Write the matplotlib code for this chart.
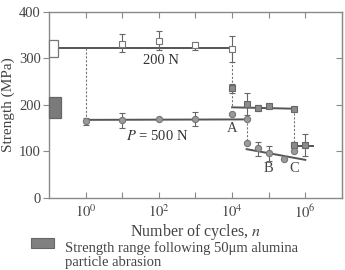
import numpy as np
import matplotlib
matplotlib.use('Agg')
import matplotlib.pyplot as plt
from matplotlib.patches import Rectangle

plt.rcParams['font.family'] = ['Liberation Serif', 'DejaVu Serif']
plt.rcParams['mathtext.fontset'] = 'stix'

# P = 200 N, open squares
n200 = [1e1, 1e2, 1e3, 1e4]
s200 = [331, 338, 328, 320]
e200_lo = [16, 20, 10, 28]
e200_hi = [21, 21, 7, 29]

# P = 500 N, circles
n500 = [1e0, 1e1, 1e2, 1e3, 2.5e4]
s500 = [166, 168, 170, 170, 169]
e500_lo = [9, 18, 0, 15, 0]
e500_hi = [7, 15, 0, 15, 0]

# after transition: 200 N, dark squares
n200b = [1e4, 2.5e4, 5e4, 1e5, 5e5]
s200b = [236, 202, 194, 198, 191]
e200b_lo = [10, 24, 6, 0, 0]
e200b_hi = [9, 24, 6, 0, 0]
n200c = [5e5, 1e6]
s200c = [115, 114]
e200c_lo = [0, 24]
e200c_hi = [0, 24]

# after transition: 500 N, circles
n500b = [1e4, 2.5e4, 5e4, 1e5, 2.6e5, 5e5]
s500b = [181, 119, 107, 96, 84, 100]
e500b_lo = [0, 0, 17, 16, 0, 0]
e500b_hi = [0, 0, 14, 16, 0, 0]

# fitted lines
line200_n, line200_s = [1e-1, 1e4], [323, 323]
line500_n, line500_s = [1e0, 2.5e4], [168, 169]
line200b_n, line200b_s = [1e4, 5e5], [195, 192]
lineB_n, lineB_s = [2.5e4, 1e6], [105, 82]
lineC_n, lineC_s = [5e5, 1.6e6], [112, 112]

# abrasion strength ranges (left boxes)
box_open = (304, 340)
box_fill = (171, 218)

dark = '#555555'
frame = '#8a8a8a'

fig = plt.figure(figsize=(3.45, 2.7), dpi=100)
ax = fig.add_axes([0.142, 0.2667, 0.849, 0.6889])
ax.set_xscale('log')
ax.set_xlim(1e-1, 1e7)
ax.set_ylim(0, 400)

# lines
for xs, ys in [(line200_n, line200_s), (line500_n, line500_s),
               (line200b_n, line200b_s), (lineB_n, lineB_s), (lineC_n, lineC_s)]:
    ax.plot(xs, ys, color=dark, lw=1.4, zorder=2)

# dashed connectors
dkw = dict(color='#777777', lw=0.8, ls=(0, (2, 1.5)), zorder=1)
ax.plot([n500[0], n500[0]], [line200_s[0], s500[0]], **dkw)
ax.plot([n200[-1], n200[-1]], [s200[-1], line200b_s[0]], **dkw)
ax.plot([n500[-1], n500[-1]], [s500[-1], s500b[1]], **dkw)
ax.plot([n200b[-1], n200b[-1]], [s200b[-1], s200c[0]], **dkw)

ekw = dict(ls='none', ecolor='#666666', elinewidth=0.8, capsize=2.5, capthick=0.8, zorder=3)
ax.errorbar(n200, s200, yerr=[e200_lo, e200_hi], marker='s', ms=4.8,
            mfc='white', mec='#777777', mew=0.8, **ekw)
ax.errorbar(n500, s500, yerr=[e500_lo, e500_hi], marker='o', ms=4.5,
            mfc='#9a9a9a', mec='#777777', mew=0.8, **ekw)
ax.errorbar(n200b, s200b, yerr=[e200b_lo, e200b_hi], marker='s', ms=4.8,
            mfc='#8c8c8c', mec='#666666', mew=0.8, **ekw)
ax.errorbar(n200c, s200c, yerr=[e200c_lo, e200c_hi], marker='s', ms=4.8,
            mfc='#8c8c8c', mec='#666666', mew=0.8, **ekw)
ax.errorbar(n500b, s500b, yerr=[e500b_lo, e500b_hi], marker='o', ms=4.5,
            mfc='#9a9a9a', mec='#777777', mew=0.8, **ekw)

# left strength range boxes
tr = ax.get_yaxis_transform()
ax.add_patch(Rectangle((0, box_open[0]), 0.031, box_open[1] - box_open[0], transform=tr,
                       facecolor='white', edgecolor='#777777', lw=0.9, zorder=4, clip_on=False))
ax.add_patch(Rectangle((0, box_fill[0]), 0.041, box_fill[1] - box_fill[0], transform=tr,
                       facecolor='#7a7a7a', edgecolor='#666666', lw=0.9, zorder=4, clip_on=False))

# annotations
ax.text(1.15e2, 295, '200 N', fontsize=10.5, ha='center', va='center', color='#333333')
ax.text(9e1, 133, '$P$ = 500 N', fontsize=10.5, ha='center', va='center', color='#333333')
ax.text(1e4, 150, 'A', fontsize=10.5, ha='center', va='center', color='#444444')
ax.text(1e5, 64, 'B', fontsize=10.5, ha='center', va='center', color='#444444')
ax.text(5e5, 64, 'C', fontsize=10.5, ha='center', va='center', color='#444444')

# ticks
ax.set_xticks([10.0 ** k for k in range(0, 7)])
ax.set_xticklabels(['$10^{%d}$' % k if k % 2 == 0 else '' for k in range(0, 7)])
ax.xaxis.set_minor_locator(matplotlib.ticker.NullLocator())
ax.set_yticks([0, 100, 200, 300, 400])
ax.tick_params(axis='x', which='both', direction='in', top=True, length=4,
               color=frame, labelsize=10.5, labelcolor='#444444', pad=4)
ax.tick_params(axis='y', direction='out', length=4, color=frame,
               labelsize=10.5, labelcolor='#444444', pad=2)
ax2 = ax.secondary_yaxis('right')
ax2.set_yticks([100, 200, 300])
ax2.tick_params(direction='in', length=4, color=frame, labelright=False)
ax2.spines['right'].set_color(frame)
for sp in ax.spines.values():
    sp.set_color(frame)
    sp.set_linewidth(1.0)

ax.set_xlabel('Number of cycles, $n$', fontsize=11.5, color='#444444', labelpad=1)
ax.set_ylabel('Strength (MPa)', fontsize=11, color='#444444', labelpad=3)

# legend key
fig.add_artist(Rectangle((0.090, 0.080), 0.067, 0.037, transform=fig.transFigure,
                         facecolor='#808080', edgecolor='#666666', lw=0.8))
fig.text(0.188, 0.068, 'Strength range following 50\u03bcm alumina', fontsize=10.5,
         va='baseline', color='#444444')
fig.text(0.188, 0.016, 'particle abrasion', fontsize=10.5, va='baseline', color='#444444')

fig.savefig('out.png', dpi=100)
